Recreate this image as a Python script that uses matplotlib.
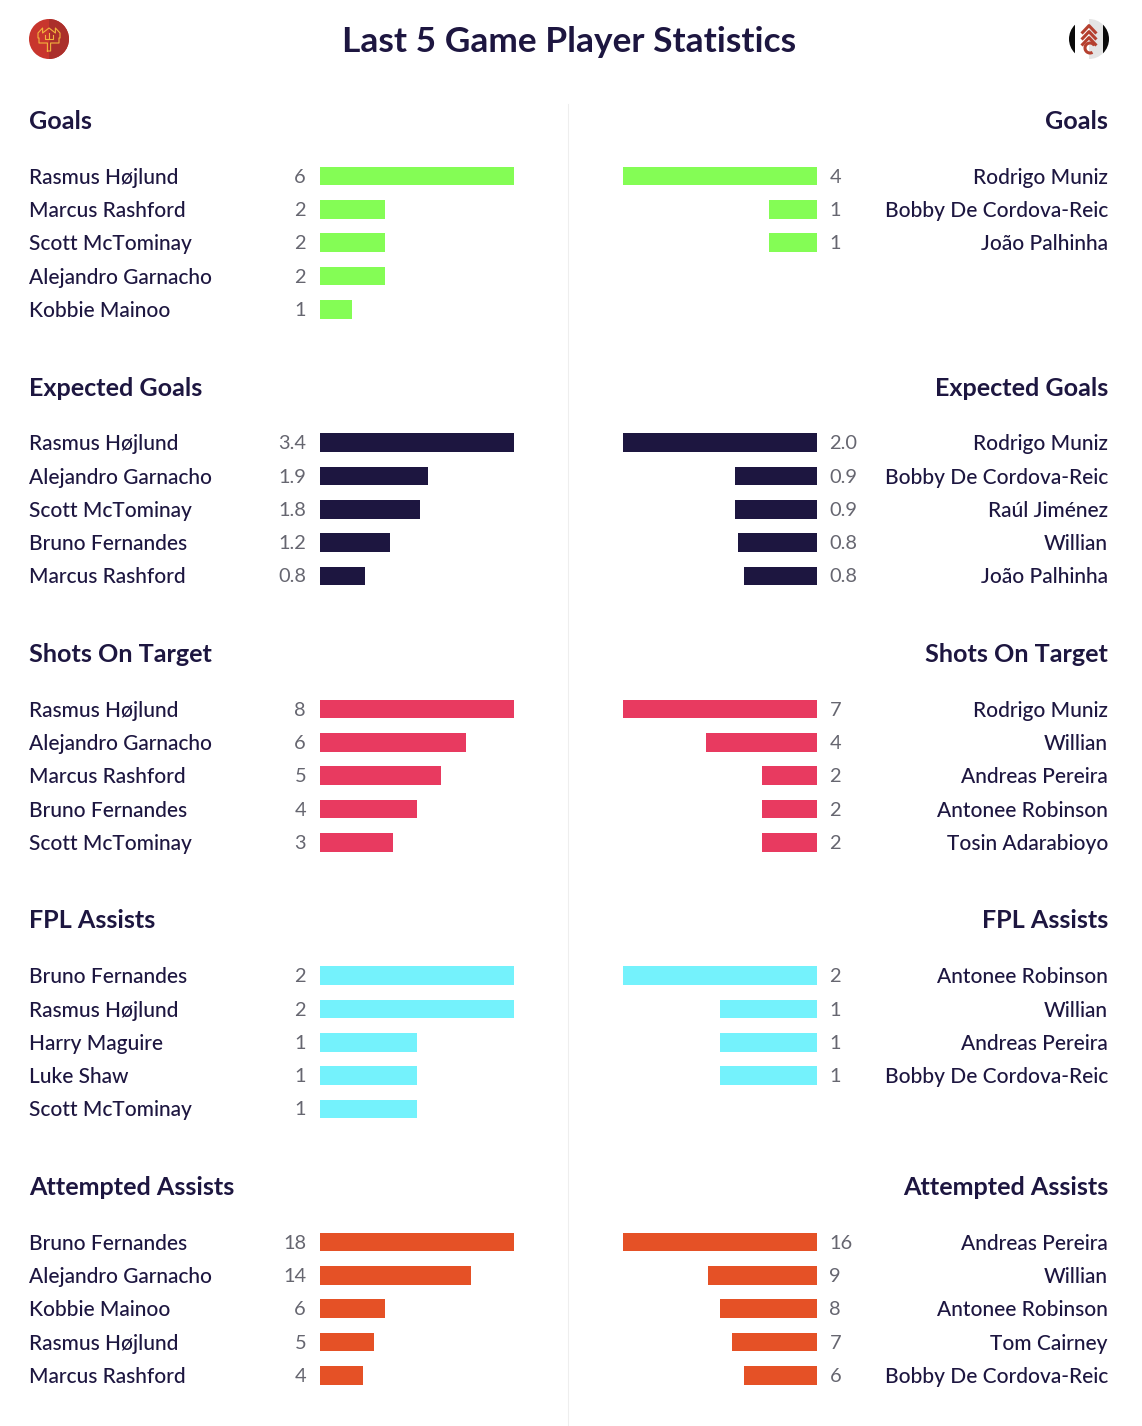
import matplotlib
matplotlib.use("Agg")
import matplotlib.pyplot as plt
import matplotlib.patches as mpatches
import numpy as np

W, H = 1142, 1426
NAVY = "#1d1640"
GREY = "#666670"

titles = ["Goals", "Expected Goals", "Shots On Target", "FPL Assists", "Attempted Assists"]
colors = ["#84fd55", "#1d1640", "#e83a60", "#74f2fc", "#e55126"]

# left team
left_names = [
    ["Rasmus Højlund", "Marcus Rashford", "Scott McTominay", "Alejandro Garnacho", "Kobbie Mainoo"],
    ["Rasmus Højlund", "Alejandro Garnacho", "Scott McTominay", "Bruno Fernandes", "Marcus Rashford"],
    ["Rasmus Højlund", "Alejandro Garnacho", "Marcus Rashford", "Bruno Fernandes", "Scott McTominay"],
    ["Bruno Fernandes", "Rasmus Højlund", "Harry Maguire", "Luke Shaw", "Scott McTominay"],
    ["Bruno Fernandes", "Alejandro Garnacho", "Kobbie Mainoo", "Rasmus Højlund", "Marcus Rashford"],
]
left_vals = [
    [6, 2, 2, 2, 1],
    [3.4, 1.9, 1.75, 1.23, 0.79],
    [8, 6, 5, 4, 3],
    [2, 2, 1, 1, 1],
    [18, 14, 6, 5, 4],
]
left_labels = [
    ["6", "2", "2", "2", "1"],
    ["3.4", "1.9", "1.8", "1.2", "0.8"],
    ["8", "6", "5", "4", "3"],
    ["2", "2", "1", "1", "1"],
    ["18", "14", "6", "5", "4"],
]

# right team
right_names = [
    ["Rodrigo Muniz", "Bobby De Cordova-Reic", "João Palhinha"],
    ["Rodrigo Muniz", "Bobby De Cordova-Reic", "Raúl Jiménez", "Willian", "João Palhinha"],
    ["Rodrigo Muniz", "Willian", "Andreas Pereira", "Antonee Robinson", "Tosin Adarabioyo"],
    ["Antonee Robinson", "Willian", "Andreas Pereira", "Bobby De Cordova-Reic"],
    ["Andreas Pereira", "Willian", "Antonee Robinson", "Tom Cairney", "Bobby De Cordova-Reic"],
]
right_vals = [
    [4, 1, 1],
    [2.0, 0.85, 0.85, 0.81, 0.75],
    [7, 4, 2, 2, 2],
    [2, 1, 1, 1],
    [16, 9, 8, 7, 6],
]
right_labels = [
    ["4", "1", "1"],
    ["2.0", "0.9", "0.9", "0.8", "0.8"],
    ["7", "4", "2", "2", "2"],
    ["2", "1", "1", "1"],
    ["16", "9", "8", "7", "6"],
]

plt.rcParams["font.family"] = ["Lato", "DejaVu Sans"]

fig = plt.figure(figsize=(W / 100, H / 100), dpi=100, facecolor="white")


def px_axes(x0, y0, x1, y1):
    # pixel box, y measured from the top of the image
    ax = fig.add_axes([x0 / W, 1 - y1 / H, (x1 - x0) / W, (y1 - y0) / H])
    ax.axis("off")
    return ax


def draw_panel(y_top, names, vals, labels, color, side):
    if side == "left":
        ax = px_axes(320, y_top, 514, y_top + 166.5)
        ax.set_xlim(0, max(vals))
    else:
        ax = px_axes(623, y_top, 817, y_top + 166.5)
        ax.set_xlim(max(vals), 0)
    ax.set_ylim(4.5, -0.5)
    ax.barh(range(len(vals)), vals, height=0.56, color=color)
    for i, (name, lab) in enumerate(zip(names, labels)):
        if side == "left":
            ax.annotate(name, (0, i), xytext=(-291, 0.4), textcoords="offset pixels",
                        ha="left", va="center_baseline", fontsize=15, fontweight="medium", color=NAVY)
            ax.annotate(lab, (0, i), xytext=(-14, 0.4), textcoords="offset pixels",
                        ha="right", va="center_baseline", fontsize=14.4, color=GREY)
        else:
            ax.annotate(name, (0, i), xytext=(291, 0.4), textcoords="offset pixels",
                        ha="right", va="center_baseline", fontsize=15, fontweight="medium", color=NAVY)
            ax.annotate(lab, (0, i), xytext=(12.5, 0.4), textcoords="offset pixels",
                        ha="left", va="center_baseline", fontsize=14.4, color=GREY)


for s in range(5):
    y_head = 119.5 + s * 266.5
    fig.text(29 / W, 1 - y_head / H, titles[s], ha="left", va="center_baseline",
             fontsize=18.1, fontweight="bold", color=NAVY)
    fig.text(1108 / W, 1 - y_head / H, titles[s], ha="right", va="center_baseline",
             fontsize=18.1, fontweight="bold", color=NAVY)
    y_top = 159.5 + s * 266.5
    draw_panel(y_top, left_names[s], left_vals[s], left_labels[s], colors[s], "left")
    draw_panel(y_top, right_names[s], right_vals[s], right_labels[s], colors[s], "right")

fig.text(569 / W, 1 - 38.5 / H, "Last 5 Game Player Statistics", ha="center", va="center_baseline",
         fontsize=25.4, fontweight="bold", color=NAVY)

# centre divider
fig.add_artist(plt.Line2D([568 / W, 568 / W], [1 - 104 / H, 0], color="#eeeeee", lw=0.8))

# left crest
ax = px_axes(29, 19, 69, 59)
ax.set_xlim(-1, 1)
ax.set_ylim(-1, 1)
ax.add_patch(mpatches.Circle((0, 0), 1, color="#c8352d", lw=0))
ax.add_patch(mpatches.Wedge((0, 0), 1, -90, 90, color="#ab2f2b", lw=0))
tx = [-0.08, -0.08, -0.5, -0.5, -0.55, -0.55, -0.32, -0.32, 0, 0.32, 0.32, 0.55, 0.55, 0.5, 0.5, 0.08, 0.08, -0.08]
ty = [-0.6, -0.2, -0.2, 0.05, 0.05, 0.3, 0.55, 0.3, 0.55, 0.3, 0.55, 0.3, 0.05, 0.05, -0.2, -0.2, -0.6, -0.6]
ax.plot(tx, ty, color="#f2b33d", lw=0.8)
ax.plot([-0.22, -0.22, 0.22, 0.22], [0.2, 0.02, 0.02, 0.2], color="#f2b33d", lw=0.8)
ax.plot([0, 0], [0.02, 0.3], color="#f2b33d", lw=0.8)

# right crest
ax = px_axes(1069, 19, 1109, 59)
ax.set_xlim(-1, 1)
ax.set_ylim(-1, 1)
ax.add_patch(mpatches.Circle((0, 0), 1, color="white", lw=0))
ax.add_patch(mpatches.Wedge((0, 0), 1, -90, 90, color="#e4e4e4", lw=0))
bar_clip = mpatches.Circle((0, 0), 1, transform=ax.transData)
for xb in [-1, 0.72]:
    r = mpatches.Rectangle((xb, -1), 0.28, 2, color="#0a0a0a", lw=0)
    ax.add_patch(r)
    r.set_clip_path(bar_clip)
for yc in [0.55, 0.25, -0.05]:
    ax.plot([-0.32, 0, 0.32], [yc - 0.22, yc + 0.12, yc - 0.22], color="#b5402f", lw=2.2)
ax.add_patch(mpatches.Arc((0.05, -0.45), 0.5, 0.5, theta1=30, theta2=300, color="#b5402f", lw=2.2))

fig.savefig("out.png", dpi=100, facecolor="white")
